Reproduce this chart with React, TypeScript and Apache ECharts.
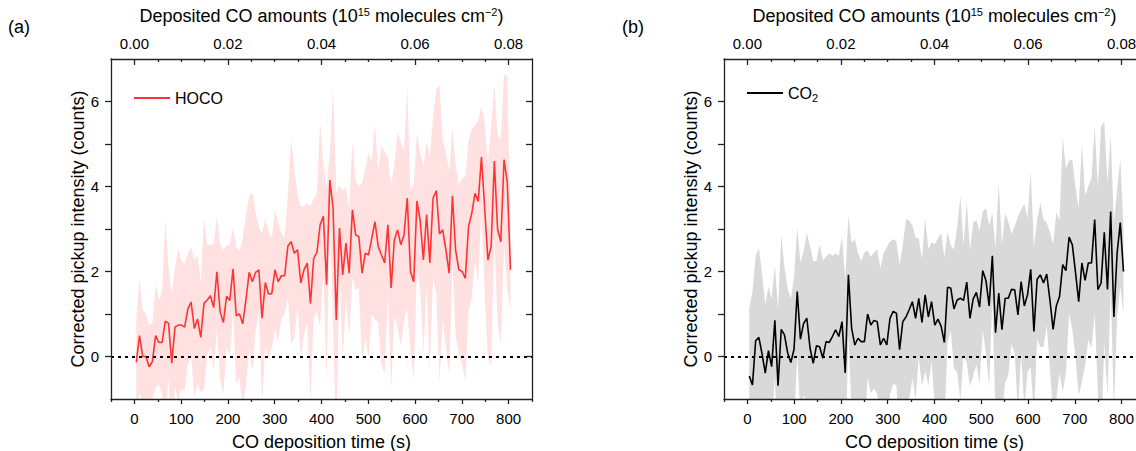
import React, { useEffect, useRef } from "react";
import * as echarts from "echarts";

// ---- tick labels ----
const X_TICKS = [0, 100, 200, 300, 400, 500, 600, 700, 800];
const X_MINOR = [-50, 50, 150, 250, 350, 450, 550, 650, 750, 850];
const TOP_TICKS = [0, 0.02, 0.04, 0.06, 0.08];
const TOP_MINOR = [0.005, 0.01, 0.015, 0.025, 0.03, 0.035, 0.045, 0.05, 0.055, 0.065, 0.07, 0.075];
const Y_TICKS = [0, 2, 4, 6];
const Y_ALL_TICKS = [0, 1, 2, 3, 4, 5, 6];

// ---- (a) HOCO: corrected pickup intensity and its error ----
const HOCO = [
  -0.14, 0.49, 0.0, 0.0, -0.24, -0.12, 0.49, 0.33, 0.33, 0.83,
  0.78, -0.16, 0.69, 0.74, 0.74, 0.69, 1.12, 1.28, 0.66, 0.88,
  0.45, 1.25, 1.33, 1.43, 1.15, 1.99, 1.05, 0.8, 1.42, 1.32,
  2.06, 0.96, 1.0, 0.77, 1.33, 1.98, 1.76, 1.98, 2.04, 0.9,
  1.74, 1.47, 1.48, 2.04, 1.76, 1.9, 1.9, 2.6, 2.7, 2.43,
  2.51, 1.73, 2.04, 2.2, 1.24, 2.31, 2.45, 3.1, 3.3, 1.69,
  4.15, 3.5, 0.86, 3.02, 1.92, 2.67, 1.96, 3.45, 2.86, 2.82,
  1.96, 2.43, 2.39, 2.78, 3.17, 2.59, 2.39, 2.2, 3.1, 1.61,
  2.74, 2.98, 2.63, 2.86, 3.73, 2.0, 1.76, 3.66, 3.2, 2.27,
  3.34, 2.2, 3.73, 3.9, 2.88, 2.98, 2.5, 1.96, 3.78, 2.5,
  2.04, 2.0, 1.84, 3.06, 3.37, 3.84, 3.65, 4.69, 3.5, 2.27,
  2.59, 4.6, 3.0, 2.7, 4.63, 4.1, 2.04,
];
const HOCO_ERR = [
  1.0, 1.35, 1.1, 1.0, 1.0, 0.9, 1.2, 1.0, 1.2, 2.4,
  1.3, 1.6, 1.4, 1.8, 1.5, 1.5, 1.3, 1.3, 1.6, 1.5,
  1.3, 2.0, 1.3, 1.2, 1.5, 1.3, 1.6, 1.7, 1.2, 1.3,
  1.0, 1.6, 1.5, 2.0, 2.0, 1.8, 2.1, 1.4, 1.0, 2.0,
  1.5, 1.5, 1.3, 1.4, 1.4, 1.0, 0.9, 1.2, 2.4, 2.0,
  1.3, 1.8, 1.5, 1.4, 2.3, 1.4, 1.4, 2.4, 1.2, 2.3,
  0.6, 2.8, 3.0, 1.0, 2.0, 1.3, 1.5, 1.6, 1.3, 1.2,
  2.1, 2.0, 2.4, 1.8, 2.3, 1.8, 2.6, 2.6, 1.6, 2.4,
  1.8, 2.3, 2.4, 2.0, 2.6, 1.9, 2.3, 1.6, 1.6, 2.2,
  1.7, 2.5, 1.9, 2.4, 3.5, 2.1, 2.3, 2.4, 1.6, 2.0,
  2.0, 2.2, 2.4, 2.0, 2.0, 1.6, 1.9, 1.2, 2.0, 2.3,
  2.8, 1.8, 2.2, 2.4, 2.0, 2.5, 1.0,
];

// ---- (b) CO2 ----
const CO2 = [
  -0.46, -0.67, 0.37, 0.45, 0.06, -0.39, 0.14, -0.24, 0.85, -0.69,
  0.64, 0.51, 0.09, -0.14, 0.17, 1.53, 0.41, 0.78, 0.9, 0.2,
  -0.16, 0.25, 0.23, -0.04, 0.35, 0.33, 0.47, 0.63, 0.47, 0.82,
  -0.39, 1.92, 0.67, 0.27, 0.43, 0.35, 0.35, 1.0, 0.74, 0.85,
  0.82, 0.27, 0.43, 0.27, 0.9, 1.06, 1.02, 0.16, 0.82, 0.93,
  1.1, 1.29, 0.9, 1.37, 0.8, 1.45, 0.93, 1.29, 0.74, 0.88,
  0.71, 0.33, 1.63, 1.61, 1.12, 1.33, 1.37, 1.32, 1.75, 0.9,
  1.35, 1.51, 1.16, 2.02, 1.79, 1.19, 2.37, 0.56, 1.49, 0.63,
  1.37, 1.37, 1.58, 1.57, 0.98, 1.76, 1.19, 1.45, 2.05, 0.59,
  1.82, 1.92, 1.73, 1.94, 1.33, 0.64, 1.19, 1.41, 2.16, 2.02,
  2.81, 2.63, 1.98, 1.29, 2.2, 1.79, 2.2, 2.2, 3.22, 1.57,
  1.73, 2.92, 1.58, 3.41, 0.93, 2.42, 3.15, 2.0,
];
const CO2_ERR = [
  1.6, 2.2, 2.0, 2.1, 1.9, 1.6, 1.5, 1.6, 1.3, 1.8,
  2.2, 1.6, 1.5, 1.5, 1.7, 1.5, 1.8, 1.7, 2.0, 2.4,
  2.4, 2.0, 2.4, 2.3, 2.0, 2.1, 1.9, 1.8, 1.9, 2.0,
  2.2, 1.4, 2.0, 2.5, 2.0, 1.9, 2.1, 1.5, 1.6, 1.6,
  1.7, 1.8, 2.0, 2.3, 1.8, 1.7, 1.7, 2.0, 1.8, 2.3,
  2.1, 1.8, 1.9, 1.4, 1.5, 1.8, 1.6, 1.4, 1.9, 1.9,
  2.2, 2.0, 1.3, 1.0, 1.4, 1.7, 2.4, 1.3, 1.9, 1.6,
  1.8, 1.7, 1.8, 1.4, 1.7, 1.9, 1.0, 2.0, 2.6, 2.0,
  2.0, 1.8, 1.3, 1.5, 2.3, 1.7, 2.4, 1.8, 2.3, 2.0,
  1.4, 1.7, 1.5, 1.2, 1.6, 2.0, 2.2, 1.8, 3.0, 2.4,
  1.8, 2.0, 2.0, 2.2, 2.8, 2.0, 1.8, 2.0, 2.2, 2.4,
  3.7, 2.6, 2.5, 1.8, 2.2, 1.5, 1.5, 1.0,
];

// measurement time grid: first sample at 4 s, last at 804 s
const T_START = 4;
const T_END = 804;
const times = (n: number) =>
  Array.from({ length: n }, (_, i) => +(T_START + ((T_END - T_START) * i) / (n - 1)).toFixed(2));

const FONT = "'Liberation Sans', Arial, sans-serif";
const AXIS_COLOR = "#222";
const lineStyle = { color: AXIS_COLOR, width: 1.3 };

function xAxesFor(gi: number) {
  return [
    {
      gridIndex: gi, type: "value", position: "bottom", min: -50, max: 850, z: 10,
      axisLine: { show: true, onZero: false, lineStyle },
      axisTick: { show: true, inside: false, length: 5, customValues: X_TICKS, lineStyle },
      axisLabel: { customValues: X_TICKS, fontSize: 15, color: "#000", margin: 12, fontFamily: FONT },
      splitLine: { show: false },
      name: "CO deposition time (s)", nameLocation: "middle", nameGap: 34,
      nameTextStyle: { fontSize: 18, color: "#000", fontFamily: FONT },
    },
    {
      gridIndex: gi, type: "value", position: "bottom", min: -50, max: 850, z: 10,
      axisLine: { show: false, onZero: false },
      axisTick: { show: true, inside: false, length: 3, customValues: X_MINOR, lineStyle },
      axisLabel: { show: false },
      splitLine: { show: false },
    },
    {
      gridIndex: gi, type: "value", position: "top", min: -0.005, max: 0.085, z: 10,
      axisLine: { show: true, onZero: false, lineStyle },
      axisTick: { show: true, inside: true, length: 6, customValues: TOP_TICKS, lineStyle },
      axisLabel: {
        customValues: TOP_TICKS, fontSize: 15, color: "#000", margin: 8, fontFamily: FONT,
        formatter: (v: number) => v.toFixed(2),
      },
      splitLine: { show: false },
      name: "Deposited CO amounts (10{sup|15} molecules cm{sup|\u22122})",
      nameLocation: "middle", nameGap: 33,
      nameTextStyle: {
        fontSize: 18, color: "#000", fontFamily: FONT,
        rich: { sup: { fontSize: 11, color: "#000", fontFamily: FONT, verticalAlign: "bottom", padding: [0, 0, 9, 0] } },
      },
    },
    {
      gridIndex: gi, type: "value", position: "top", min: -0.005, max: 0.085, z: 10,
      axisLine: { show: false, onZero: false },
      axisTick: { show: true, inside: true, length: 3, customValues: TOP_MINOR, lineStyle },
      axisLabel: { show: false },
      splitLine: { show: false },
    },
  ];
}

function yAxesFor(gi: number) {
  return [
    {
      gridIndex: gi, type: "value", position: "left", min: -1, max: 7, z: 10,
      axisLine: { show: true, onZero: false, lineStyle },
      axisTick: { show: true, inside: false, length: 6, customValues: Y_ALL_TICKS, lineStyle },
      axisLabel: { customValues: Y_TICKS, fontSize: 15, color: "#000", margin: 12, fontFamily: FONT },
      splitLine: { show: false },
      name: "Corrected pickup intensity (counts)", nameLocation: "middle", nameGap: 24,
      nameTextStyle: { fontSize: 18, color: "#000", fontFamily: FONT },
    },
    {
      gridIndex: gi, type: "value", position: "right", min: -1, max: 7, z: 10,
      axisLine: { show: true, onZero: false, lineStyle },
      axisTick: { show: true, inside: true, length: 6, customValues: Y_ALL_TICKS, lineStyle },
      axisLabel: { show: false },
      splitLine: { show: false },
    },
  ];
}

function seriesFor(
  name: string, values: number[], errs: number[], gi: number,
  lineColor: string, bandColor: string
) {
  const t = times(values.length);
  const xi = gi * 4;
  const yi = gi * 2;
  return [
    {
      type: "custom", name: name + "-band", xAxisIndex: xi, yAxisIndex: yi,
      clip: true, silent: true, z: 1,
      data: [[t[0], values[0]]],
      renderItem: (params: any, api: any) => {
        if (params.dataIndex !== 0) return null;
        const upper = t.map((x, i) => api.coord([x, values[i] + errs[i]]));
        const lower = t.map((x, i) => api.coord([x, values[i] - errs[i]])).reverse();
        return {
          type: "polygon",
          shape: { points: upper.concat(lower) },
          style: { fill: bandColor, stroke: "none" },
        };
      },
    },
    {
      type: "line", name, xAxisIndex: xi, yAxisIndex: yi,
      symbol: "none", showSymbol: false,
      lineStyle: { color: lineColor, width: 1.6 },
      itemStyle: { color: lineColor },
      data: t.map((x, i) => [x, values[i]]),
      z: 3,
      markLine: {
        silent: true, symbol: "none", label: { show: false },
        lineStyle: { type: [3, 4], color: "#000", width: 2 },
        data: [{ yAxis: 0 }],
      },
    },
  ];
}

export default function App() {
  const ref = useRef<HTMLDivElement>(null);
  useEffect(() => {
    if (!ref.current) return;
    const chart = echarts.init(ref.current, undefined, { renderer: "svg" });
    const option: any = {
      animation: false,
      backgroundColor: "#fff",
      grid: [
        { left: 111, top: 59, width: 421, height: 340, outerBoundsMode: "none" },
        { left: 724, top: 59, width: 421, height: 340, outerBoundsMode: "none" },
      ],
      xAxis: [...xAxesFor(0), ...xAxesFor(1)],
      yAxis: [...yAxesFor(0), ...yAxesFor(1)],
      legend: [
        {
          data: [{ name: "HOCO", icon: "rect" }], left: 134, top: 90, padding: 0,
          itemWidth: 36, itemHeight: 2,
          textStyle: { fontSize: 16, color: "#000", fontFamily: FONT },
        },
        {
          data: [{ name: "CO2", icon: "rect" }], left: 747, top: 85, padding: 0,
          itemWidth: 36, itemHeight: 2,
          formatter: () => "CO{sub|2}",
          textStyle: {
            fontSize: 16, color: "#000", fontFamily: FONT,
            rich: { sub: { fontSize: 11, color: "#000", fontFamily: FONT, verticalAlign: "top", padding: [9, 0, 0, 0] } },
          },
        },
      ],
      graphic: [
        { type: "text", left: 8, top: 18, style: { text: "(a)", fontSize: 18, fill: "#000", fontFamily: FONT } },
        { type: "text", left: 622, top: 18, style: { text: "(b)", fontSize: 18, fill: "#000", fontFamily: FONT } },
      ],
      series: [
        ...seriesFor("HOCO", HOCO, HOCO_ERR, 0, "#ff3333", "#ffe1e1"),
        ...seriesFor("CO2", CO2, CO2_ERR, 1, "#000000", "#d9d9d9"),
      ],
    };
    chart.setOption(option);
    return () => chart.dispose();
  }, []);
  return (
    <div
      ref={ref}
      style={{ position: "absolute", left: 0, top: 0, width: 1136, height: 451, overflow: "hidden" }}
    />
  );
}
